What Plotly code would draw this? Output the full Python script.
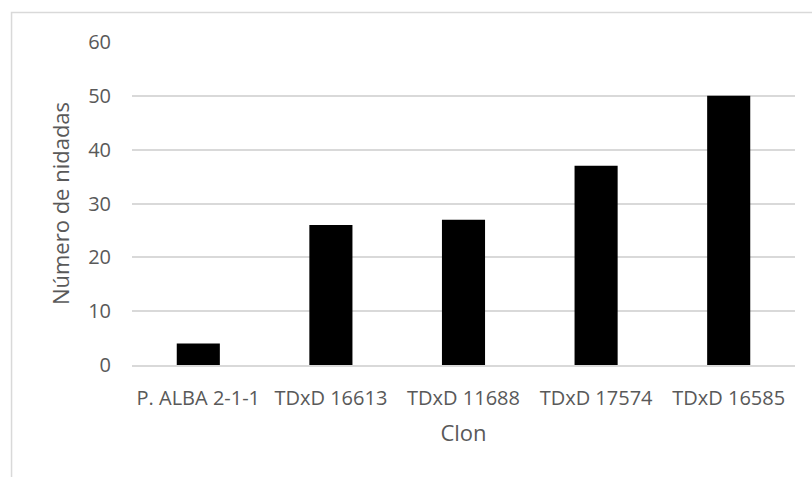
import plotly.graph_objects as go

# Número de nidadas por clon
clones = ["P. ALBA 2-1-1", "TDxD 16613", "TDxD 11688", "TDxD 17574", "TDxD 16585"]
nidadas = [4, 26, 27, 37, 50]
y_ticks = [0, 10, 20, 30, 40, 50, 60]

text_color = "#595959"
grid_color = "#d9d9d9"
font_family = "Open Sans, Noto Sans, sans-serif"

fig = go.Figure(
    go.Bar(
        x=clones,
        y=nidadas,
        marker=dict(color="black", line=dict(width=0)),
        width=0.325,
    )
)

fig.update_layout(
    width=812,
    height=477,
    margin=dict(l=132, r=17, t=42, b=112),
    paper_bgcolor="white",
    plot_bgcolor="white",
    showlegend=False,
    font=dict(family=font_family, size=20, color=text_color),
    shapes=[
        # chart-area frame
        dict(
            type="rect",
            xref="paper",
            yref="paper",
            x0=-0.1817,
            x1=1.1,
            y0=-0.6,
            y1=1.0913,
            line=dict(color=grid_color, width=1.5),
            fillcolor="rgba(0,0,0,0)",
            layer="below",
        )
    ],
)

fig.update_yaxes(
    range=[0, 60],
    tickvals=y_ticks,
    showgrid=True,
    gridcolor=grid_color,
    gridwidth=1.5,
    zeroline=False,
    showline=False,
    ticks="",
    ticklabelstandoff=20,
    tickfont=dict(size=20, color=text_color),
    title=dict(text="Número de nidadas", font=dict(size=22, color=text_color), standoff=12),
)

fig.update_xaxes(
    showgrid=False,
    showline=True,
    linecolor=grid_color,
    linewidth=1.5,
    ticks="",
    ticklabelstandoff=14,
    tickfont=dict(size=20, color=text_color),
    title=dict(text="Clon", font=dict(size=22, color=text_color), standoff=16),
)

fig.write_html("out.html")
